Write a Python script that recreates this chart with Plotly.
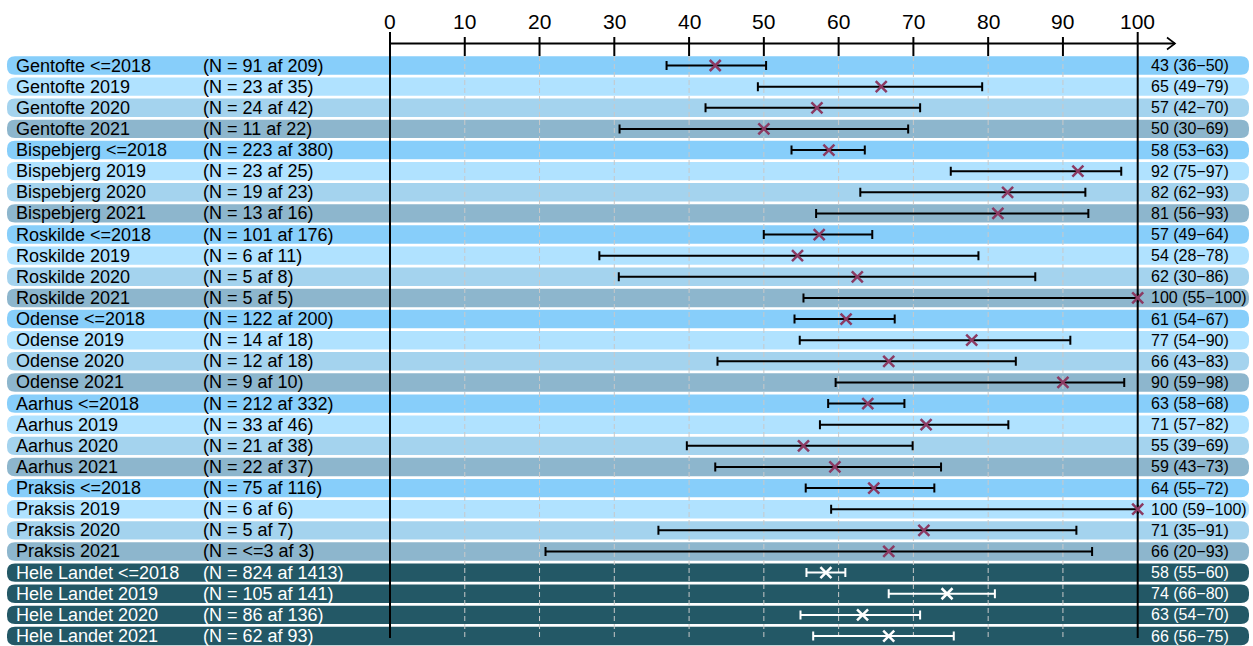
import math
import plotly.graph_objects as go

# ---- data -----------------------------------------------------------------
units = ["Gentofte", "Bispebjerg", "Roskilde", "Odense", "Aarhus", "Praksis", "Hele Landet"]
periods = ["<=2018", "2019", "2020", "2021"]

n_pos = ["91", "23", "24", "11",
         "223", "23", "19", "13",
         "101", "6", "5", "5",
         "122", "14", "12", "9",
         "212", "33", "21", "22",
         "75", "6", "5", "<=3",
         "824", "105", "86", "62"]
n_all = [209, 35, 42, 22,
         380, 25, 23, 16,
         176, 11, 8, 5,
         200, 18, 18, 10,
         332, 46, 38, 37,
         116, 6, 7, 3,
         1413, 141, 136, 93]

# share in percent with 95% confidence interval
pct = [43.5, 65.7, 57.1, 50.0,
       58.7, 92.0, 82.6, 81.3,
       57.4, 54.5, 62.5, 100.0,
       61.0, 77.8, 66.7, 90.0,
       63.9, 71.7, 55.3, 59.5,
       64.7, 100.0, 71.4, 66.7,
       58.3, 74.5, 63.2, 66.7]
ci_low = [36.99, 49.2, 42.2, 30.7,
          53.7, 75.0, 62.9, 56.99,
          49.99, 28.0, 30.6, 55.3,
          54.1, 54.8, 43.8, 59.6,
          58.6, 57.5, 39.7, 43.5,
          55.6, 59.0, 35.9, 20.8,
          55.7, 66.7, 54.9, 56.6]
ci_high = [50.3, 79.2, 70.9, 69.3,
           63.5, 97.8, 93.0, 93.4,
           64.5, 78.7, 86.3, 100.0,
           67.5, 90.99, 83.7, 98.2,
           68.8, 82.7, 69.9, 73.7,
           72.8, 100.0, 91.8, 93.9,
           60.9, 80.9, 70.9, 75.4]

x_ticks = [0, 10, 20, 30, 40, 50, 60, 70, 80, 90, 100]

# ---- geometry -------------------------------------------------------------
W, H = 1253, 646
X0_PX, PX_PER_UNIT = 390.0, 7.477        # where 0 sits and pixels per percent
ROW0_PX, ROW_PX = 65.5, 21.13            # first row centre, row pitch

x_range = [-X0_PX / PX_PER_UNIT, (W - X0_PX) / PX_PER_UNIT]
y_range = [(H - ROW0_PX) / ROW_PX, -ROW0_PX / ROW_PX]


def py(px):
    """pixel row from the top -> paper y"""
    return 1 - px / H


def pxx(px):
    """pixel column -> paper x"""
    return px / W


def ux(px):
    """pixel column -> x data value"""
    return (px - X0_PX) / PX_PER_UNIT


period_fill = ["#87CEFA", "#B0E2FF", "#A4D3EE", "#8DB6CD"]
national_fill = "#235866"
point_col = "#8B3A62"
FONT = "Liberation Sans, Arial, sans-serif"

labels = [f"{u} {p}" for u in units for p in periods]
n_rows = len(labels)
national = [lab.startswith("Hele Landet") for lab in labels]

shapes = []
annotations = []

# rounded row backgrounds
hh = 9.2 / ROW_PX
ry = 8.0 / ROW_PX
xl, xr = pxx(7), pxx(1249)
rx = 8.0 / W
for i in range(n_rows):
    fill = national_fill if national[i] else period_fill[i % 4]
    yt, yb = i - hh, i + hh
    path = (f"M {xl + rx},{yt} L {xr - rx},{yt} Q {xr},{yt} {xr},{yt + ry} "
            f"L {xr},{yb - ry} Q {xr},{yb} {xr - rx},{yb} L {xl + rx},{yb} "
            f"Q {xl},{yb} {xl},{yb - ry} L {xl},{yt + ry} Q {xl},{yt} {xl + rx},{yt} Z")
    shapes.append(dict(type="path", path=path, xref="paper", yref="y",
                       fillcolor=fill, line=dict(width=0), layer="below"))

# dashed guides
for v in x_ticks[1:-1]:
    shapes.append(dict(type="line", xref="x", yref="paper", x0=v, x1=v,
                       y0=py(56), y1=py(640),
                       line=dict(color="#C9C9C9", width=1, dash="5px,3px"),
                       layer="below"))

# solid reference lines at 0 and 100
for v in (0, 100):
    shapes.append(dict(type="line", xref="x", yref="paper", x0=v, x1=v,
                       y0=py(32), y1=py(638),
                       line=dict(color="black", width=2), layer="below"))

# top axis with ticks and arrow
AX_PX = 43.5
shapes.append(dict(type="line", xref="x", yref="paper", x0=0, x1=ux(1175),
                   y0=py(AX_PX), y1=py(AX_PX), line=dict(color="black", width=2)))
for v in x_ticks[1:-1]:
    shapes.append(dict(type="line", xref="x", yref="paper", x0=v, x1=v,
                       y0=py(37), y1=py(56), line=dict(color="black", width=2)))
shapes.append(dict(type="path", xref="x", yref="paper",
                   path=f"M {ux(1167)},{py(37.5)} L {ux(1175)},{py(AX_PX)} L {ux(1167)},{py(49.5)}",
                   line=dict(color="black", width=1.6)))

for v in x_ticks:
    annotations.append(dict(x=v, y=py(21), xref="x", yref="paper", text=str(v),
                            showarrow=False, xanchor="center", yanchor="middle",
                            font=dict(family=FONT, size=21, color="black")))

# row texts
for i in range(n_rows):
    col = "white" if national[i] else "black"
    lab = labels[i].replace("<", "&lt;")
    ntxt = f"(N = {n_pos[i].replace('<', '&lt;')} af {n_all[i]})"
    rtxt = (f"{math.floor(pct[i])} ({math.floor(ci_low[i])}\u2212"
            f"{math.floor(ci_high[i])})")
    for xp, txt, size in ((16, lab, 18), (203, ntxt, 18), (1151, rtxt, 16)):
        annotations.append(dict(x=pxx(xp), y=i, xref="paper", yref="y", text=txt,
                                showarrow=False, xanchor="left", yanchor="middle",
                                xshift=-2, yshift=0,
                                font=dict(family=FONT, size=size, color=col)))

# ---- traces ---------------------------------------------------------------
fig = go.Figure()


def add_group(idx, bar_col, mark_col):
    fig.add_trace(go.Scatter(
        x=[pct[i] for i in idx], y=idx, mode="markers",
        marker=dict(symbol="x-thin", size=11, color=mark_col,
                    line=dict(width=2.5, color=mark_col)),
        error_x=dict(type="data", symmetric=False,
                     array=[ci_high[i] - pct[i] for i in idx],
                     arrayminus=[pct[i] - ci_low[i] for i in idx],
                     color=bar_col, thickness=2, width=4.5),
        hoverinfo="skip", showlegend=False))


add_group([i for i in range(n_rows) if not national[i]], "black", point_col)
add_group([i for i in range(n_rows) if national[i]], "white", "white")

fig.update_layout(
    width=W, height=H, margin=dict(l=0, r=0, t=0, b=0),
    paper_bgcolor="white", plot_bgcolor="white",
    xaxis=dict(range=x_range, visible=False, fixedrange=True),
    yaxis=dict(range=y_range, visible=False, fixedrange=True),
    shapes=shapes, annotations=annotations, showlegend=False,
)

fig.write_html("out.html")
